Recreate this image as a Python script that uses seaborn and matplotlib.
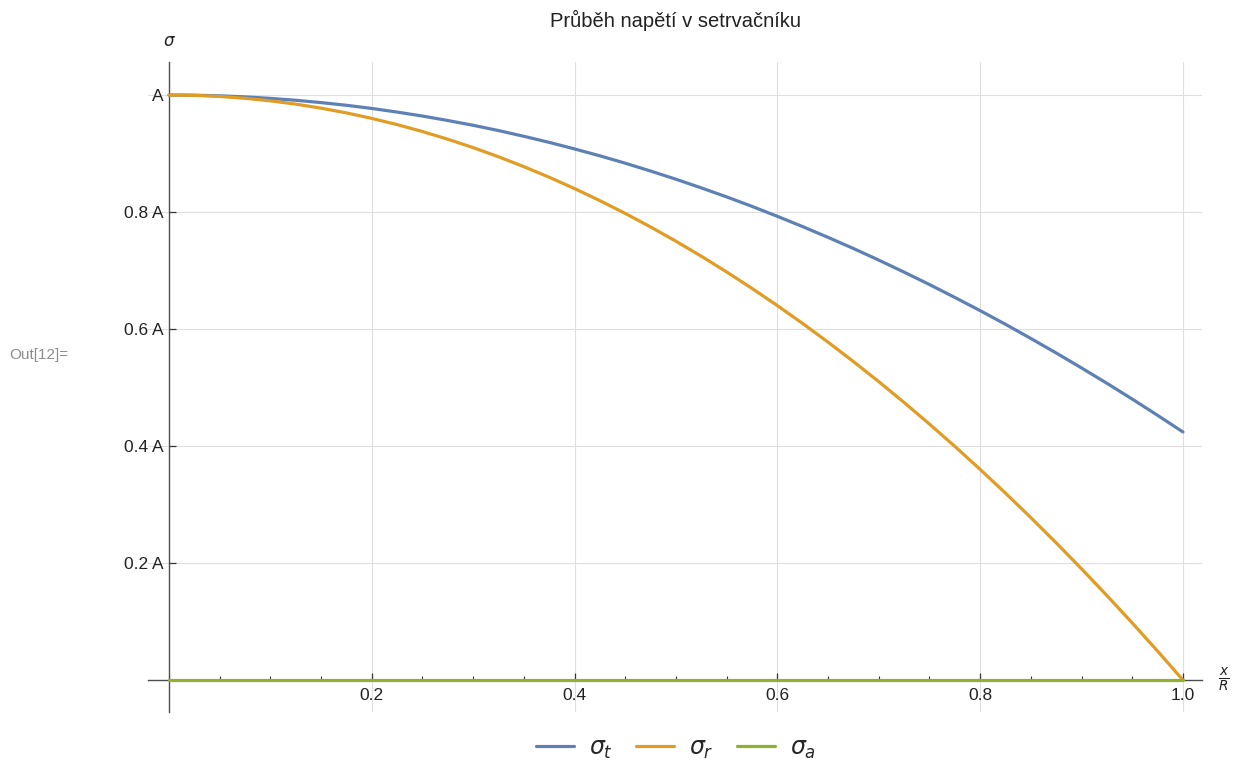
import numpy as np
import pandas as pd
import matplotlib
matplotlib.use("Agg")
import matplotlib.pyplot as plt
import seaborn as sns
from matplotlib.ticker import FixedLocator, FixedFormatter, MultipleLocator

# ---- data ----
x_vals = [0.000, 0.025, 0.050, 0.075, 0.100, 0.125, 0.150, 0.175, 0.200, 0.225,
          0.250, 0.275, 0.300, 0.325, 0.350, 0.375, 0.400, 0.425, 0.450, 0.475,
          0.500, 0.525, 0.550, 0.575, 0.600, 0.625, 0.650, 0.675, 0.700, 0.725,
          0.750, 0.775, 0.800, 0.825, 0.850, 0.875, 0.900, 0.925, 0.950, 0.975,
          1.000]
sigma_t = [1.0000, 0.9996, 0.9986, 0.9968, 0.9942, 0.9910, 0.9870, 0.9824,
           0.9770, 0.9708, 0.9640, 0.9564, 0.9482, 0.9392, 0.9294, 0.9190,
           0.9078, 0.8960, 0.8834, 0.8700, 0.8560, 0.8412, 0.8258, 0.8096,
           0.7926, 0.7750, 0.7566, 0.7376, 0.7178, 0.6972, 0.6760, 0.6540,
           0.6314, 0.6080, 0.5838, 0.5590, 0.5334, 0.5072, 0.4802, 0.4524,
           0.4240]
sigma_r = [1.0000, 0.9994, 0.9975, 0.9944, 0.9900, 0.9844, 0.9775, 0.9694,
           0.9600, 0.9494, 0.9375, 0.9244, 0.9100, 0.8944, 0.8775, 0.8594,
           0.8400, 0.8194, 0.7975, 0.7744, 0.7500, 0.7244, 0.6975, 0.6694,
           0.6400, 0.6094, 0.5775, 0.5444, 0.5100, 0.4744, 0.4375, 0.3994,
           0.3600, 0.3194, 0.2775, 0.2344, 0.1900, 0.1444, 0.0975, 0.0494,
           0.0000]
sigma_a = [0.0] * 41
series_names = [r"$\sigma_t$", r"$\sigma_r$", r"$\sigma_a$"]
x_ticks = [0.2, 0.4, 0.6, 0.8, 1.0]
x_tick_labels = ["0.2", "0.4", "0.6", "0.8", "1.0"]
y_ticks = [0.2, 0.4, 0.6, 0.8, 1.0]
y_tick_labels = ["0.2 A", "0.4 A", "0.6 A", "0.8 A", "A"]
title = "Průběh napětí v setrvačníku"

colors = ["#5E81B5", "#E19C24", "#8FB032"]

df = pd.concat([
    pd.DataFrame({"x": x_vals, "sigma": vals, "series": name})
    for name, vals in zip(series_names, [sigma_t, sigma_r, sigma_a])
], ignore_index=True)

sns.set_theme(style="white")
plt.rcParams["font.family"] = ["Liberation Sans", "DejaVu Sans"]
plt.rcParams["mathtext.fontset"] = "dejavusans"

fig = plt.figure(figsize=(12.34, 7.63), dpi=100)
ax = fig.add_axes([148/1234, 1 - 712/763, (1202-148)/1234, (712-62)/763])

# grid
ax.set_xlim(-0.0207, 1.0188)
ax.set_ylim(-0.0547, 1.0564)
for gx in x_ticks:
    ax.axvline(gx, color="#dedede", lw=0.8, zorder=0)
for gy in y_ticks:
    ax.axhline(gy, color="#dedede", lw=0.8, zorder=0)

sns.lineplot(data=df, x="x", y="sigma", hue="series", palette=colors,
             linewidth=2.3, ax=ax, zorder=3, sort=False)

# axes through origin
for side in ["top", "right"]:
    ax.spines[side].set_visible(False)
ax.spines["left"].set_position(("data", 0))
ax.spines["bottom"].set_position(("data", 0))
for side in ["left", "bottom"]:
    ax.spines[side].set_color("#4d4d4d")
    ax.spines[side].set_linewidth(1.0)
    ax.spines[side].set_zorder(2)

ax.xaxis.set_major_locator(FixedLocator(x_ticks))
ax.xaxis.set_major_formatter(FixedFormatter(x_tick_labels))
ax.xaxis.set_minor_locator(MultipleLocator(0.05))
ax.yaxis.set_major_locator(FixedLocator(y_ticks))
ax.yaxis.set_major_formatter(FixedFormatter(y_tick_labels))
ax.tick_params(axis="x", which="major", direction="in", length=5, width=0.9,
               color="#333333", labelsize=12.5, pad=6, labelcolor="#222222",
               bottom=True)
ax.tick_params(axis="x", which="minor", direction="in", length=3, width=0.8,
               color="#333333", bottom=True)
ax.tick_params(axis="y", which="major", direction="in", length=5, width=0.9,
               color="#333333", labelsize=12.5, pad=4, labelcolor="#222222",
               left=True)
ax.set_xlabel("")
ax.set_ylabel("")

ax.set_title(title, fontsize=14.5, pad=25, color="#222222")

# axis labels
fig.text(169/1234, 1 - 42/763, r"$\sigma$", fontsize=12, ha="center",
         va="center", color="#222222")
fig.text(1224/1234, 1 - 680/763, r"$\frac{x}{R}$", fontsize=14, ha="center",
         va="center", color="#222222")
fig.text(39/1234, 1 - 355/763, "Out[12]=", fontsize=11, ha="center",
         va="center", color="#8c8c8c")

sns.move_legend(ax, "center", bbox_to_anchor=(676/1234, 1 - 749/763),
                bbox_transform=fig.transFigure, ncol=3, frameon=False,
                title=None, fontsize=17, handlelength=1.6, columnspacing=1.0,
                handletextpad=0.63)

fig.savefig("out.png", dpi=100)
